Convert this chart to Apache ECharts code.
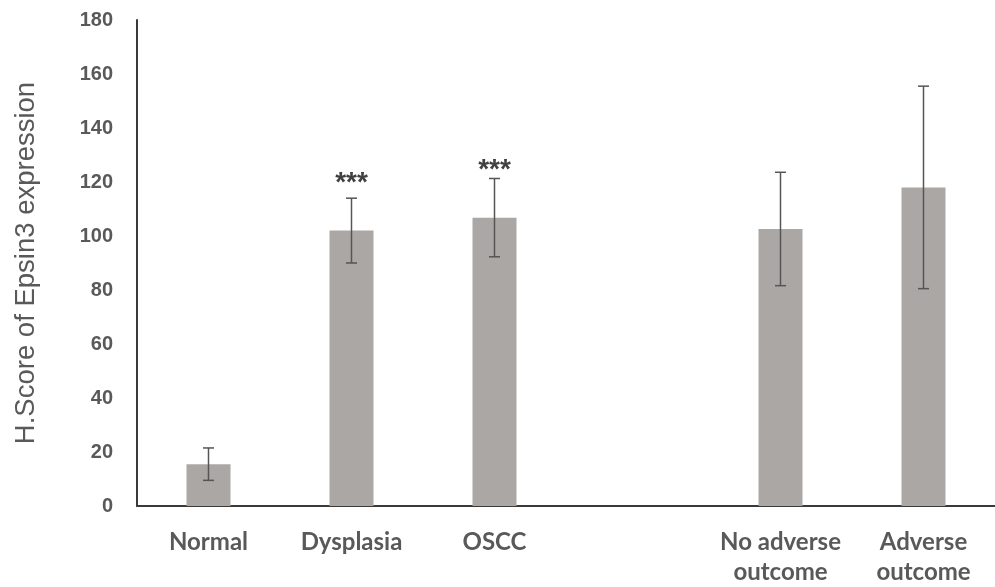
<!DOCTYPE html>
<html>
<head>
<meta charset="utf-8">
<script src="https://cdn.jsdelivr.net/npm/echarts@6/dist/echarts.min.js"></script>
<style>
  html, body { margin: 0; padding: 0; background: #fff; }
  #chart { width: 995px; height: 587px; }
</style>
</head>
<body>
<div id="chart"></div>
<script>
// Groups on the x axis (an empty slot separates the two comparisons)
const categories = ['Normal', 'Dysplasia', 'OSCC', '', 'No adverse\noutcome', 'Adverse\noutcome'];
// Mean H.Score per group
const meanScores = [15.5, 102, 106.8, null, 102.6, 118];
// Error bar half-length (SD) per group
const errorSizes = [6, 12, 14.5, null, 21, 37.5];
// Significance markers and the height they are drawn at
const sigMarks = ['', '***', '***', '', '', ''];
const sigLevels = [null, 119.5, 124.5, null, null, null];
const yTicks = { min: 0, max: 180, step: 20 };

const barColor = '#aba7a5';
const textColor = '#595959';

const errorData = categories.map((c, i) =>
  meanScores[i] == null ? null : [i, meanScores[i] - errorSizes[i], meanScores[i] + errorSizes[i]]
).filter(d => d);

const sigData = categories.map((c, i) =>
  sigLevels[i] == null ? null : { value: [i, sigLevels[i]], mark: sigMarks[i] }
).filter(d => d);

const chart = echarts.init(document.getElementById('chart'));
chart.setOption({
  animation: false,
  backgroundColor: '#ffffff',
  grid: { left: 137, top: 20, width: 864, bottom: 78, containLabel: false },
  xAxis: {
    type: 'category',
    data: categories,
    axisLine: { lineStyle: { color: '#3a3a3a', width: 2 } },
    axisTick: { show: false },
    axisLabel: {
      color: textColor,
      fontFamily: 'Lato',
      fontWeight: 'bold',
      fontSize: 24,
      lineHeight: 30,
      margin: 21,
      interval: 0
    }
  },
  yAxis: {
    type: 'value',
    min: yTicks.min,
    max: yTicks.max,
    interval: yTicks.step,
    name: 'H.Score of Epsin3 expression',
    nameLocation: 'middle',
    nameGap: 97,
    nameTextStyle: { color: textColor, fontFamily: 'Liberation Sans', fontSize: 27.5 },
    axisLine: { show: true, lineStyle: { color: '#3a3a3a', width: 2 } },
    axisTick: { show: false },
    splitLine: { show: false },
    axisLabel: {
      color: textColor,
      fontFamily: 'Liberation Sans',
      fontWeight: 'bold',
      fontSize: 20,
      margin: 24
    }
  },
  series: [
    {
      type: 'bar',
      data: meanScores,
      barWidth: 44,
      itemStyle: { color: barColor },
      z: 2
    },
    {
      type: 'custom',
      data: errorData,
      z: 3,
      renderItem: function (params, api) {
        const x = api.value(0);
        const lo = api.coord([x, api.value(1)]);
        const hi = api.coord([x, api.value(2)]);
        const half = 5.5;
        const style = { stroke: '#555555', lineWidth: 1.5 };
        return {
          type: 'group',
          children: [
            { type: 'line', shape: { x1: hi[0], y1: hi[1], x2: lo[0], y2: lo[1] }, style: style },
            { type: 'line', shape: { x1: hi[0] - half, y1: hi[1], x2: hi[0] + half, y2: hi[1] }, style: style },
            { type: 'line', shape: { x1: lo[0] - half, y1: lo[1], x2: lo[0] + half, y2: lo[1] }, style: style }
          ]
        };
      }
    },
    {
      type: 'scatter',
      data: sigData,
      symbolSize: 0,
      z: 4,
      label: {
        show: true,
        position: 'inside',
        formatter: p => p.data.mark,
        color: '#111111',
        fontFamily: 'Liberation Sans',
        fontWeight: 'bold',
        fontSize: 28
      }
    }
  ]
});
</script>
</body>
</html>
